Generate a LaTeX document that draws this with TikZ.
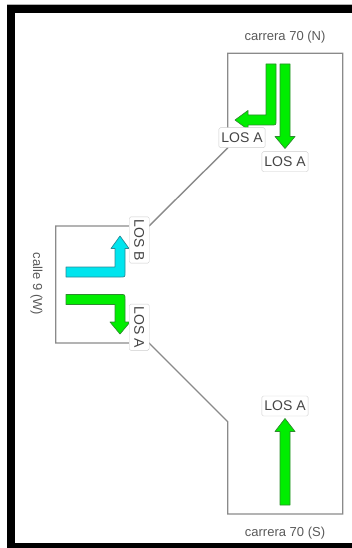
\documentclass[tikz,border=0pt]{standalone}
\usepackage{fontspec}
\setmainfont{Liberation Sans}
\usetikzlibrary{positioning}
\definecolor{road}{HTML}{8A8A8A}
\definecolor{movA}{HTML}{00EE00}
\definecolor{movAB}{HTML}{2E8B2E}
\definecolor{movB}{HTML}{00E5EE}
\definecolor{movBB}{HTML}{2A8A96}
\definecolor{ink}{HTML}{444444}
\definecolor{frameline}{HTML}{CCCCCC}

\begin{document}
\begin{tikzpicture}[x=1pt, y=-1pt,
    every node/.style={text=ink},
    los/.style={draw=frameline, fill=white, rounded corners=1.5pt, inner xsep=2.5pt,
                inner ysep=0pt, minimum height=20pt, font=\fontsize{14}{14}\selectfont},
    street/.style={font=\fontsize{13}{13}\selectfont, text=black!65},
    outline/.style={draw=road, line width=1.4pt, line join=miter},
    greenmov/.style={fill=movA, draw=movAB, line width=0.7pt, line join=round},
    cyanmov/.style={fill=movB, draw=movBB, line width=0.7pt, line join=round},
  ]
  \useasboundingbox (0,0) rectangle (352,548);

  % black frame (left, top, bottom)
  \fill[black] (7.3,5) rectangle (15,548);
  \fill[black] (7.3,5) rectangle (352,13.5);
  \fill[black] (7.3,542.5) rectangle (352,548);
  \draw[black!30, line width=0.8pt] (7.3,4.6) -- (352,4.6);

  % the road outline
  \coordinate (nw) at (227.7,53.3);
  \coordinate (ne) at (342.7,53.3);
  \coordinate (se) at (342.7,514);
  \coordinate (sw) at (227.7,514);
  \coordinate (sk) at (227.7,421.7);
  \coordinate (wk) at (149,343);
  \coordinate (wsw) at (55.7,343);
  \coordinate (wnw) at (55.7,226);
  \coordinate (wn) at (149,226);
  \coordinate (nk) at (227.7,148);
  \draw[outline] (nw) -- (ne) -- (se) -- (sw) -- (sk) -- (wk) -- (wsw) -- (wnw) -- (wn) -- (nk) -- cycle;

  % approaches
  \node[street] (north) at (285,37.5) {carrera 70 (N)};
  \node[street] (south) at (285,533) {carrera 70 (S)};
  \node[street, rotate=-90] (west) at (36.5,284) {calle 9 (W)};

  % movements, north approach
  \filldraw[greenmov] (266,64) -- (276,64) -- (276,120.5) .. controls (276,125) .. (271.5,125)
        -- (248,125) -- (248,129.5) -- (235,120) -- (248,110.5) -- (248,115) -- (266,115) -- cycle;
  \filldraw[greenmov] (280,64) -- (290,64) -- (290,136.5) -- (295,136.5) -- (285,148.5)
        -- (275,136.5) -- (280,136.5) -- cycle;

  % movements, west approach
  \filldraw[cyanmov] (66,267) -- (115,267) -- (115,248.5) -- (111,248.5) -- (120,236)
        -- (129,248.5) -- (125,248.5) -- (125,272.5) .. controls (125,277) .. (120.5,277)
        -- (66,277) -- cycle;
  \filldraw[greenmov] (66,294.5) -- (120.5,294.5) .. controls (125,294.5) .. (125,299)
        -- (125,322) -- (130,322) -- (120,334) -- (110,322) -- (115,322) -- (115,304.5)
        -- (66,304.5) -- cycle;

  % movement, south approach
  \filldraw[greenmov] (280,505) -- (290,505) -- (290,431.5) -- (295,431.5) -- (285,418.5)
        -- (275,431.5) -- (280,431.5) -- cycle;

  % level of service labels
  \node[los] (nleft) at (242,137.7) {LOS A};
  \node[los] (nthru) at (285,161.7) {LOS A};
  \node[los, rotate=-90] (wleft) at (139.2,240) {LOS B};
  \node[los, rotate=-90] (wright) at (139.2,327.2) {LOS A};
  \node[los] (sthru) at (285,406) {LOS A};
\end{tikzpicture}
\end{document}
